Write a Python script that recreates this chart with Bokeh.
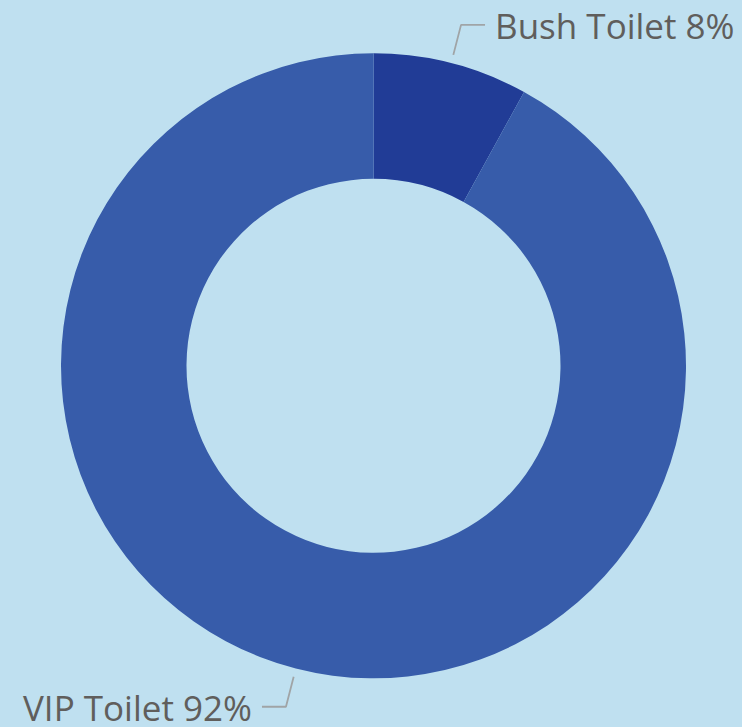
import numpy as np
from bokeh.plotting import figure
from bokeh.models import Range1d, ColumnDataSource
from bokeh.core.properties import value
from bokeh.embed import file_html
from bokeh.resources import INLINE

# ---- data ----
categories = ["Bush Toilet", "VIP Toilet"]
percents = [8, 92]
colors = ["#213C96", "#375CAA"]

BG = "#BFE0F0"
TEXT = "#605E5C"
LEADER = "#A0A4A6"

W, H = 742, 727
cx, cy = 373, H - 365.3
R_out, R_in = 312.5, 187

p = figure(width=W, height=H, output_backend="svg", toolbar_location=None,
           x_range=Range1d(0, W), y_range=Range1d(0, H),
           min_border=0, background_fill_color=BG, border_fill_color=BG)
p.axis.visible = False
p.xgrid.visible = False
p.ygrid.visible = False
p.outline_line_color = None

vals = np.array(percents, dtype=float)
frac = vals / vals.sum()
# start at top, go clockwise
ends = np.pi / 2 - 2 * np.pi * np.cumsum(frac)
starts = np.concatenate([[np.pi / 2], ends[:-1]])
mids = (starts + ends) / 2

src = ColumnDataSource(dict(start=ends, end=starts, color=colors))
p.annular_wedge(x=cx, y=cy, inner_radius=R_in, outer_radius=R_out,
                start_angle="start", end_angle="end", color="color",
                line_color=None, direction="anticlock", source=src)

r1, r2, hl, gap = 321, 352, 24, 10
for cat, pc, m in zip(categories, percents, mids):
    x1, y1 = cx + r1 * np.cos(m), cy + r1 * np.sin(m)
    x2, y2 = cx + r2 * np.cos(m), cy + r2 * np.sin(m)
    right = np.cos(m) >= 0
    x3 = x2 + hl if right else x2 - hl
    p.line([x1, x2, x3], [y1, y2, y2], line_color=LEADER, line_width=1.8)
    tx = x3 + gap if right else x3 - gap
    p.text(x=[tx], y=[y2], text=[f"{cat} {pc}%"],
           text_align="left" if right else "right",
           text_baseline="middle", y_offset=1,
           text_font=value("Open Sans"), text_font_size="35px",
           text_color=TEXT)

html = file_html(p, INLINE)
html = html.replace("<head>", "<head><style>html,body{margin:0;padding:0;background:%s;overflow:hidden;}</style>" % BG, 1)
open("out.html", "w").write(html)
